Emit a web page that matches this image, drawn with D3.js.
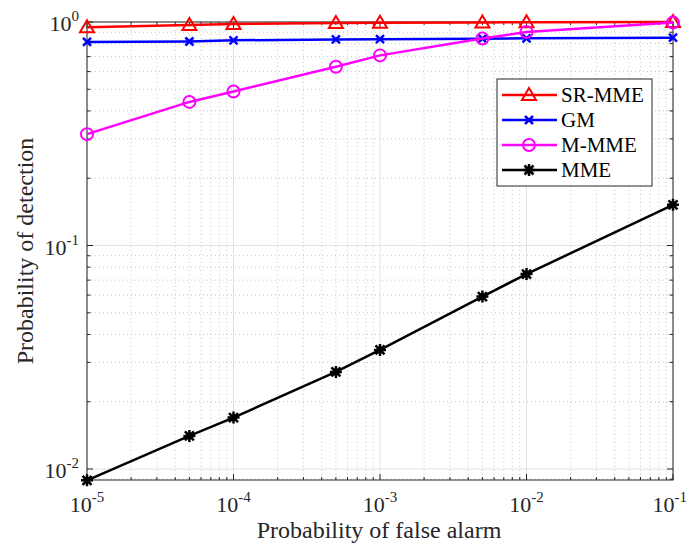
<!DOCTYPE html>
<html>
<head>
<meta charset="utf-8">
<script src="https://cdn.jsdelivr.net/npm/d3@7"></script>
<style>
body { margin: 0; background: #fff; }
text { font-family: "Liberation Serif", "DejaVu Serif", serif; fill: #262626; }
</style>
</head>
<body>
<svg width="689" height="548"></svg>
<script>
var pfa = [1e-5, 5e-5, 1e-4, 5e-4, 1e-3, 5e-3, 1e-2, 1e-1];

var srMme = [0.947, 0.970, 0.979, 0.990, 0.992, 0.995, 0.997, 0.999];
var gm    = [0.814, 0.818, 0.828, 0.836, 0.838, 0.842, 0.845, 0.851];
var mMme  = [0.315, 0.439, 0.489, 0.631, 0.709, 0.843, 0.903, 0.994];
var mme   = [0.0089, 0.01406, 0.01698, 0.0272, 0.0341, 0.0591, 0.0745, 0.152];

var seriesNames = ["SR-MME", "GM", "M-MME", "MME"];
var seriesColors = ["#ff0000", "#0000ff", "#ff00ff", "#000000"];
var seriesMarkers = ["triangle", "x", "circle", "star"];
var seriesValues = [srMme, gm, mMme, mme];

var xTickExps = [-5, -4, -3, -2, -1];
var yTickExps = [-2, -1, 0];

var svg = d3.select("svg"),
	margin = {top: 22, right: 16, bottom: 68, left: 87},
	width = +svg.attr("width") - margin.left - margin.right,
	height = +svg.attr("height") - margin.top - margin.bottom,
	g = svg.append("g").attr("transform", "translate(" + margin.left + "," + margin.top + ")");

var x = d3.scaleLog().domain([1e-5, 1e-1]).range([0, width]);
var y = d3.scaleLog().domain([0.00893, 1]).range([height, 0]);

// minor and major tick values
var xMinor = [], yMinor = [];
for (var e = -5; e < -1; e++)
	for (var k = 2; k < 10; k++) xMinor.push(k * Math.pow(10, e));
for (var e = -3; e < 0; e++)
	for (var k = 2; k < 10; k++) {
		var v = k * Math.pow(10, e);
		if (v >= 0.00893) yMinor.push(v);
	}
var xMajor = xTickExps.map(function(e) { return Math.pow(10, e); });
var yMajor = yTickExps.map(function(e) { return Math.pow(10, e); });

// grid
g.selectAll(".xminor").data(xMinor).enter().append("line")
	.attr("x1", d => x(d)).attr("x2", d => x(d))
	.attr("y1", 0).attr("y2", height)
	.attr("stroke", "#c8c8c8").attr("stroke-width", 1).attr("stroke-dasharray", "1,3");
g.selectAll(".yminor").data(yMinor).enter().append("line")
	.attr("y1", d => y(d)).attr("y2", d => y(d))
	.attr("x1", 0).attr("x2", width)
	.attr("stroke", "#c8c8c8").attr("stroke-width", 1).attr("stroke-dasharray", "1,3");
g.selectAll(".xmajor").data(xMajor).enter().append("line")
	.attr("x1", d => x(d)).attr("x2", d => x(d))
	.attr("y1", 0).attr("y2", height)
	.attr("stroke", "#e3e3e3").attr("stroke-width", 1);
g.selectAll(".ymajor").data(yMajor).enter().append("line")
	.attr("y1", d => y(d)).attr("y2", d => y(d))
	.attr("x1", 0).attr("x2", width)
	.attr("stroke", "#e3e3e3").attr("stroke-width", 1);

// ticks on all four sides, pointing inward
function ticks(vals, len) {
	vals.forEach(function(v) {
		var xv = x(v);
		g.append("line").attr("x1", xv).attr("x2", xv).attr("y1", height).attr("y2", height - len)
			.attr("stroke", "#262626");
		g.append("line").attr("x1", xv).attr("x2", xv).attr("y1", 0).attr("y2", len)
			.attr("stroke", "#262626");
	});
}
function yticks(vals, len) {
	vals.forEach(function(v) {
		var yv = y(v);
		g.append("line").attr("y1", yv).attr("y2", yv).attr("x1", 0).attr("x2", len)
			.attr("stroke", "#262626");
		g.append("line").attr("y1", yv).attr("y2", yv).attr("x1", width).attr("x2", width - len)
			.attr("stroke", "#262626");
	});
}
ticks(xMinor, 3);
ticks(xMajor, 6);
yticks(yMinor, 3.5);
yticks(yMajor, 6);

g.append("rect").attr("width", width).attr("height", height)
	.attr("fill", "none").attr("stroke", "#262626").attr("stroke-width", 1);

// tick labels
xTickExps.forEach(function(e, i) {
	var last = i == xTickExps.length - 1;
	var t = g.append("text")
		.attr("x", last ? width + 14 : x(Math.pow(10, e)))
		.attr("y", height + 32)
		.attr("text-anchor", last ? "end" : "middle")
		.style("font-size", "22px");
	t.append("tspan").text("10");
	t.append("tspan").attr("dy", -10).style("font-size", "15px").text(e);
});
yTickExps.forEach(function(e) {
	var t = g.append("text")
		.attr("x", -8)
		.attr("y", y(Math.pow(10, e)) + 9)
		.attr("text-anchor", "end")
		.style("font-size", "22px");
	t.append("tspan").text("10");
	t.append("tspan").attr("dy", -10).style("font-size", "15px").text(e);
});

// axis labels
svg.append("text")
	.attr("x", 379).attr("y", 538)
	.attr("text-anchor", "middle")
	.style("font-size", "24px")
	.text("Probability of false alarm");
svg.append("text")
	.attr("transform", "translate(33,251) rotate(-90)")
	.attr("text-anchor", "middle")
	.style("font-size", "24px")
	.text("Probability of detection");

// markers
function drawMarker(sel, type, color) {
	if (type == "triangle") {
		sel.append("path").attr("d", "M0,-7L7,5L-7,5Z")
			.attr("fill", "none").attr("stroke", color).attr("stroke-width", 2);
	} else if (type == "circle") {
		sel.append("circle").attr("r", 6)
			.attr("fill", "none").attr("stroke", color).attr("stroke-width", 2);
	} else if (type == "x") {
		sel.append("path").attr("d", "M-4,-4L4,4M-4,4L4,-4")
			.attr("stroke", color).attr("stroke-width", 2.5);
	} else {
		sel.append("path").attr("d", "M-6,0L6,0M0,-6L0,6M-4.5,-4.5L4.5,4.5M-4.5,4.5L4.5,-4.5")
			.attr("stroke", color).attr("stroke-width", 2.5);
		sel.append("circle").attr("r", 3.5).attr("fill", color);
	}
}

var line = d3.line()
	.x(function(d) { return x(d[0]); })
	.y(function(d) { return y(d[1]); });

seriesValues.forEach(function(vals, i) {
	var pts = pfa.map(function(p, j) { return [p, vals[j]]; });
	g.append("path")
		.datum(pts)
		.attr("fill", "none")
		.attr("stroke", seriesColors[i])
		.attr("stroke-width", 2.5)
		.attr("d", line);
	pts.forEach(function(d) {
		var m = g.append("g").attr("transform", "translate(" + x(d[0]) + "," + y(d[1]) + ")");
		drawMarker(m, seriesMarkers[i], seriesColors[i]);
	});
});

// legend
var lg = svg.append("g").attr("transform", "translate(497,79)");
lg.append("rect").attr("width", 155).attr("height", 107)
	.attr("fill", "#fff").attr("stroke", "#262626").attr("stroke-width", 1);
seriesNames.forEach(function(name, i) {
	var yy = 16 + i * 25;
	lg.append("line").attr("x1", 5).attr("x2", 60).attr("y1", yy).attr("y2", yy)
		.attr("stroke", seriesColors[i]).attr("stroke-width", 2.5);
	var m = lg.append("g").attr("transform", "translate(32," + yy + ")");
	drawMarker(m, seriesMarkers[i], seriesColors[i]);
	lg.append("text").attr("x", 64).attr("y", yy + 7)
		.style("font-size", "21px").style("fill", "#000").text(name);
});
</script>
</body>
</html>
